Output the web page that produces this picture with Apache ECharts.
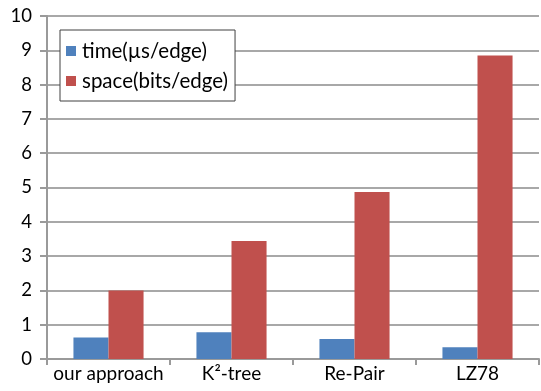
<!DOCTYPE html>
<html>
<head>
<meta charset="utf-8">
<script src="https://cdn.jsdelivr.net/npm/echarts@6/dist/echarts.min.js"></script>
<style>html,body{margin:0;padding:0;background:#fff}#c{width:541px;height:391px}</style>
</head>
<body>
<div id="c"></div>
<script>
var categories = ['our approach', 'K²-tree', 'Re-Pair', 'LZ78'];
var timeValues = [0.63, 0.78, 0.58, 0.34];
var spaceValues = [2.0, 3.44, 4.87, 8.85];
var seriesNames = ['time(µs/edge)', 'space(bits/edge)'];
var yTicks = [0, 1, 2, 3, 4, 5, 6, 7, 8, 9, 10];

var chart = echarts.init(document.getElementById('c'), null, {renderer: 'canvas'});
var font = 'Lato, "Open Sans", sans-serif';
chart.setOption({
  animation: false,
  backgroundColor: '#fff',
  grid: {left: 47, right: 2, top: 16, bottom: 32},
  legend: {
    data: seriesNames,
    orient: 'vertical',
    left: 60, top: 30,
    padding: [10, 7, 9, 6],
    itemGap: 8,
    itemWidth: 10, itemHeight: 10,
    icon: 'rect',
    borderColor: '#404040', borderWidth: 1,
    backgroundColor: '#fff',
    textStyle: {fontFamily: font, fontSize: 20.5, color: '#000', lineHeight: 22, padding: [0,0,0,1]}
  },
  xAxis: {
    type: 'category',
    data: categories,
    axisLine: {lineStyle: {color: '#9a9a9a', width: 2}},
    axisTick: {show: true, length: 6, alignWithLabel: false, lineStyle: {color: '#9a9a9a', width: 2}},
    axisLabel: {fontFamily: font, fontSize: 19, color: '#000', margin: 5, interval: 0}
  },
  yAxis: {
    type: 'value',
    min: yTicks[0], max: yTicks[yTicks.length - 1], interval: 1,
    axisLine: {show: true, lineStyle: {color: '#9a9a9a', width: 2}},
    axisTick: {show: true, length: 7, lineStyle: {color: '#9a9a9a', width: 2}},
    splitLine: {lineStyle: {color: '#a8a8a8', width: 2}},
    axisLabel: {fontFamily: font, fontSize: 18.5, color: '#000', margin: 15}
  },
  series: [
    {name: seriesNames[0], type: 'bar', data: timeValues, barGap: '0%', barCategoryGap: '43%',
     itemStyle: {color: '#4F81BD'}},
    {name: seriesNames[1], type: 'bar', data: spaceValues, barGap: '0%', barCategoryGap: '43%',
     itemStyle: {color: '#C0504D'}}
  ]
});
</script>
</body>
</html>
